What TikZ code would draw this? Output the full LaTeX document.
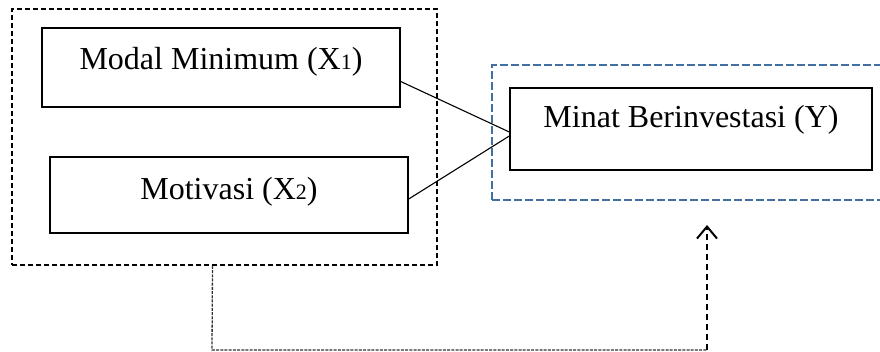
\documentclass[tikz,border=0pt]{standalone}
\usepackage{fontspec}
\setmainfont{Liberation Serif}
\usepackage{xcolor}
\definecolor{colorGroupY}{RGB}{66,112,162}
\colorlet{colorFeedback}{black!80}
\usetikzlibrary{arrows.meta, positioning}
\newcommand{\idx}[1]{{\fontsize{11}{11}\selectfont #1}}
\tikzset{
  factor/.style={draw, line width=0.7pt, inner sep=0pt, minimum width=179pt,
    font=\fontsize{16}{19}\selectfont, text height=11pt},
  groupbox/.style={draw, line width=0.9pt, dash pattern=on 2.5pt off 1.5pt, inner sep=0pt}
}

\begin{document}
\begin{tikzpicture}[x=0.5pt, y=-0.5pt, >={Straight Barb[length=6pt,width=10pt,line width=1pt]}]
\useasboundingbox (0,0) rectangle (880,352);
\node[groupbox, minimum width=212.5pt, minimum height=128pt] (grpx) at (224.5,137) {};
\node[groupbox, draw=colorGroupY, line width=1.4pt, dash pattern=on 4pt off 1.5pt, minimum width=204pt, minimum height=67.5pt] (grpy) at (696,132.5) {};
\node[factor, minimum height=39.5pt, text depth=8.5pt] (x1) at (221,67.5) {Modal Minimum (X\idx{1})};
\node[factor, minimum height=38pt, text depth=6pt] (x2) at (229,195) {Motivasi (X\idx{2})};
\node[factor, minimum width=181pt, minimum height=41pt, text depth=12pt] (y) at (691,129) {Minat Berinvestasi (Y)};
\coordinate (fbl) at (212,350);
\coordinate (fbr) at (707,350);
\coordinate (fbtip) at (707,225);
\draw[line width=0.55pt] ([yshift=-7pt]x1.east) -- ([yshift=-1.5pt]y.west);
\draw[line width=0.55pt] ([yshift=-2pt]x2.east) -- ([yshift=-3.5pt]y.west);
\draw[colorFeedback, line width=0.65pt, dash pattern=on 1.5pt off 0.6pt] ([xshift=-6pt]grpx.south) -- (fbl) -- (fbr);
\draw[->, line width=1.3pt, dash pattern=on 3pt off 2pt] (fbr) -- (fbtip);
\end{tikzpicture}
\end{document}
